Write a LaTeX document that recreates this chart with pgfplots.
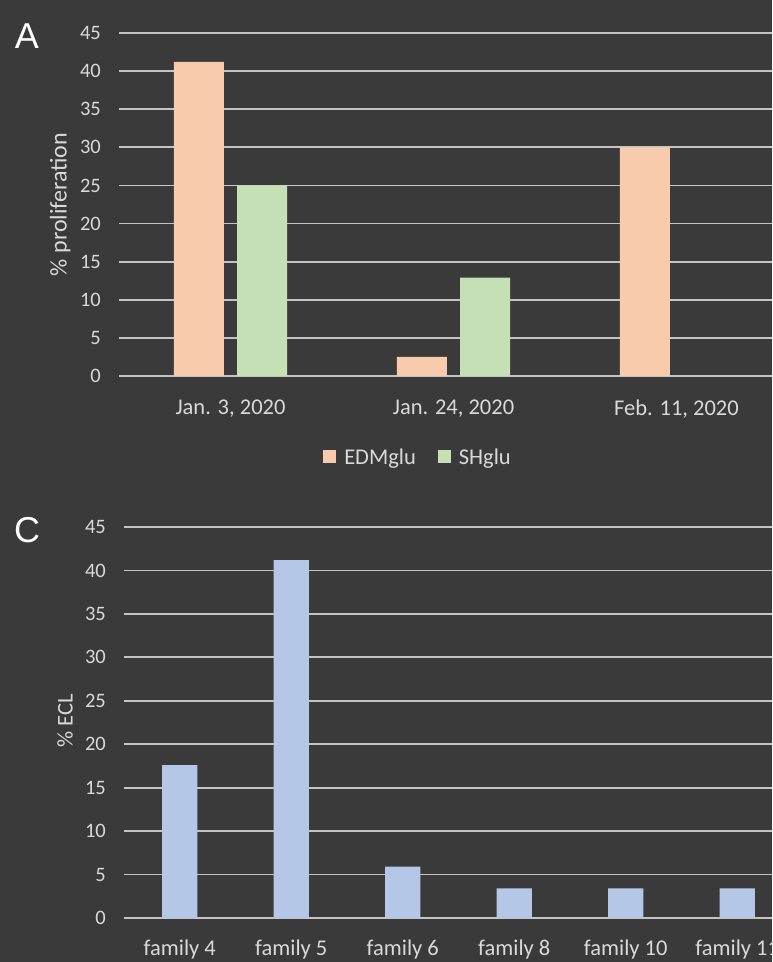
\documentclass[border=0pt]{standalone}
\usepackage{fontspec}
\setmainfont{Carlito}
\newfontfamily\letterfont{Liberation Sans}
\usepackage{pgfplots}
\pgfplotsset{compat=1.18}
\definecolor{bg}{HTML}{3A3A3A}
\definecolor{gridc}{HTML}{C4C4C4}
\definecolor{txt}{HTML}{D9D9D9}
\definecolor{peach}{HTML}{F8CBAD}
\definecolor{green1}{HTML}{C5E0B4}
\definecolor{blue1}{HTML}{B4C7E7}
\pgfplotsset{
  mystyle/.style={
    scale only axis, anchor=south west,
    ymin=0, ymax=45, ytick={0,5,...,45},
    ymajorgrids, grid style={gridc, line width=1.7pt},
    axis line style={draw=none}, major tick length=0pt, tick style={draw=none},
    /pgf/number format/assume math mode=true,
    yticklabel style={font=\fontsize{20.5}{24}\selectfont, text=txt, inner sep=0pt, anchor=east, xshift=-18pt},
    xticklabel style={font=\fontsize{22.5}{26}\selectfont, text=txt, inner sep=0pt, anchor=north},
    ylabel style={font=\fontsize{22.5}{26}\selectfont, text=txt, anchor=center, inner sep=0pt},
  }
}
\begin{document}
\begin{tikzpicture}[x=1pt,y=1pt]
\path[use as bounding box] (0pt,0pt) rectangle (772pt,962pt);
\fill[bg] (0pt,0pt) rectangle (772pt,962pt);
\begin{scope}
\clip (0pt,0pt) rectangle (772pt,962pt);
% Panel A
\begin{axis}[mystyle,
  at={(119pt,586pt)}, width=669pt, height=343pt,
  xmin=-0.5, xmax=2.5, xtick={0,1,2},
  xticklabels={{Jan. 3, 2020},{Jan. 24, 2020},{Feb. 11, 2020}},
  xticklabel style={yshift=-24pt},
  ylabel={\% proliferation},
  ylabel style={at={(axis description cs:-0.088,0.5)}, font=\fontsize{24}{28}\selectfont},
  legend style={at={(axis description cs:0.447,-0.236)}, anchor=center, draw=none, fill=none,
    text=txt, font=\fontsize{22.5}{26}\selectfont, inner sep=0pt,
    /tikz/every even column/.append style={column sep=20pt}},
  legend columns=2,
  legend image code/.code={\fill[#1] (0pt,-6.5pt) rectangle (13pt,6.5pt); \path (19pt,0pt);},
]
\addplot[ybar, bar width=0.2242, bar shift=-0.1413, fill=peach, draw=none] coordinates {(0,41.2) (1,2.5) (2,30.0)};
\addlegendentry{EDMglu}
\addplot[ybar, bar width=0.2242, bar shift=0.1413, fill=green1, draw=none] coordinates {(0,25.0) (1,12.9) (2,0)};
\addlegendentry{SHglu}
\end{axis}
% Panel C
\begin{axis}[mystyle,
  at={(124pt,44pt)}, width=669pt, height=391pt,
  xmin=-0.5, xmax=5.5, xtick={0,1,2,3,4,5},
  xticklabels={family 4,family 5,family 6,family 8,family 10,family 11},
  xticklabel style={yshift=-22pt},
  ylabel={\% ECL},
  ylabel style={at={(axis description cs:-0.088,0.504)}},
]
\addplot[ybar, bar width=0.314, bar shift=0, fill=blue1, draw=none] coordinates {(0,17.6) (1,41.2) (2,5.9) (3,3.4) (4,3.4) (5,3.4)};
\end{axis}
\end{scope}
\node[font=\letterfont\fontsize{36}{40}\selectfont, text=white, inner sep=0pt] at (27pt,926pt) {A};
\node[font=\letterfont\fontsize{36}{40}\selectfont, text=white, inner sep=0pt] at (27pt,432pt) {C};
\end{tikzpicture}
\end{document}
